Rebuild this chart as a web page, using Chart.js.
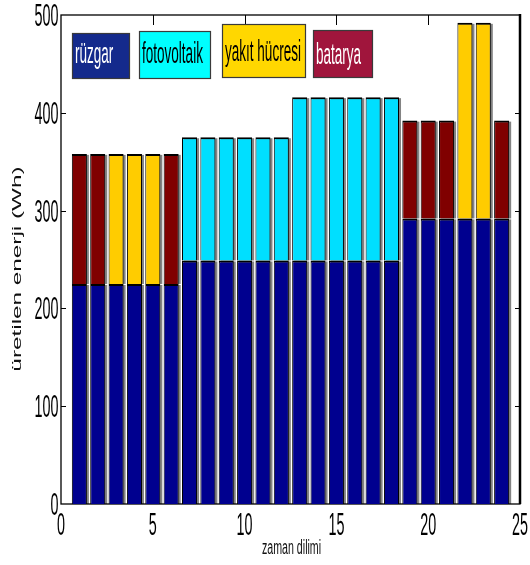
<!DOCTYPE html>
<html>
<head>
<meta charset="utf-8">
<script src="https://cdn.jsdelivr.net/npm/chart.js@4"></script>
<style>
html,body{margin:0;padding:0;background:#ffffff;}
#c{display:block;}
</style>
</head>
<body>
<canvas id="c" width="530" height="565"></canvas>
<script>
// ---- data ----
const timeSlots    = [1,2,3,4,5,6,7,8,9,10,11,12,13,14,15,16,17,18,19,20,21,22,23,24];
const ruzgar       = [225,225,225,225,225,225,249,249,249,249,249,249,249,249,249,249,249,249,292,292,292,292,292,292];
const fotovoltaik  = [null,null,null,null,null,null,126,126,126,126,126,126,167,167,167,167,167,167,null,null,null,null,null,null];
const yakitHucresi = [null,null,133,133,133,null,null,null,null,null,null,null,null,null,null,null,null,null,null,null,null,200,200,null];
const batarya      = [133,133,null,null,null,133,null,null,null,null,null,null,null,null,null,null,null,null,100,100,100,null,null,100];
const seriesLabels = ['rüzgar','fotovoltaik','yakıt hücresi','batarya'];
const xTickValues  = [0,5,10,15,20,25];
const yTickValues  = [0,100,200,300,400,500];
const xTitle = 'zaman dilimi';
const yTitle = 'üretilen enerji (Wh)';

// ---- styles / layout ----
const barColors        = ['#00008f','#00dfff','#ffcc00','#800000'];
const legendColors     = ['#142a8c','#00ffff','#ffd700','#a0153c'];
const legendTextColors = ['#ffffff','#000000','#000000','#ffffff'];
const legendBoxes = [
  {x:72,  y:33, w:58, h:46, base:63},
  {x:139, y:31, w:72, h:48, base:63},
  {x:222, y:24, w:84, h:54, base:61},
  {x:313, y:30, w:60, h:48, base:64}
];
const FONT = "'Liberation Sans', Arial, sans-serif";

function toPoints(arr){ return timeSlots.map((t,i)=>({x:t, y:arr[i]})); }
const seriesValues = [ruzgar, fotovoltaik, yakitHucresi, batarya];

function stretchText(ctx, text, x, y, size, sx, sy, align, color){
  ctx.save();
  ctx.translate(x, y);
  ctx.scale(sx, sy);
  ctx.font = size + 'px ' + FONT;
  ctx.textAlign = align;
  ctx.textBaseline = 'alphabetic';
  ctx.fillStyle = color || '#000';
  ctx.fillText(text, 0, 0);
  ctx.restore();
}

const framePlugin = {
  id: 'matlabFrame',
  beforeDatasetsDraw(chart){
    const ctx = chart.ctx;
    const a = chart.chartArea;
    const xs = chart.scales.x, ys = chart.scales.y;
    ctx.save();
    // bar shadows
    ctx.fillStyle = 'rgba(90,90,90,0.75)';
    chart.data.datasets.forEach((ds, di) => {
      const meta = chart.getDatasetMeta(di);
      meta.data.forEach((el, i) => {
        if (ds.data[i].y === null) return;
        const p = el.getProps(['x','y','base','width'], true);
        ctx.fillRect(p.x - p.width/2 + 2, p.y + 1, p.width, p.base - p.y - 1);
      });
    });
    // frame
    ctx.strokeStyle = '#000';
    ctx.lineWidth = 1.3;
    ctx.strokeRect(a.left, a.top, a.right - a.left, a.bottom - a.top);
    ctx.lineWidth = 2.5;
    ctx.beginPath(); ctx.moveTo(a.right, a.top - 1); ctx.lineTo(a.right, a.bottom); ctx.stroke();
    // inward ticks
    ctx.lineWidth = 1;
    xs.ticks.forEach(t => {
      if (t.value <= xs.min || t.value >= xs.max) return;
      const px = Math.round(xs.getPixelForValue(t.value)) + 0.5;
      ctx.beginPath();
      ctx.moveTo(px, a.top); ctx.lineTo(px, a.top + 10);
      ctx.moveTo(px, a.bottom); ctx.lineTo(px, a.bottom - 10);
      ctx.stroke();
    });
    ys.ticks.forEach(t => {
      if (t.value <= ys.min || t.value >= ys.max) return;
      const py = Math.round(ys.getPixelForValue(t.value)) + 0.5;
      ctx.beginPath();
      ctx.moveTo(a.left, py); ctx.lineTo(a.left + 5, py);
      ctx.moveTo(a.right, py); ctx.lineTo(a.right - 5, py);
      ctx.stroke();
    });
    ctx.restore();
  },
  afterDraw(chart){
    const ctx = chart.ctx;
    const a = chart.chartArea;
    const xs = chart.scales.x, ys = chart.scales.y;
    // tick labels
    xs.ticks.forEach(t => {
      stretchText(ctx, String(t.value), xs.getPixelForValue(t.value), a.bottom + 31, 17.5, 0.82, 1.75, 'center');
    });
    ys.ticks.forEach(t => {
      stretchText(ctx, String(t.value), a.left - 2.5, ys.getPixelForValue(t.value) + 11, 17.5, 0.82, 1.75, 'right');
    });
    // axis titles
    stretchText(ctx, xTitle, (a.left + a.right)/2 + 1, 554, 13, 0.82, 1.6, 'center', '#111');
    ctx.save();
    ctx.translate(21, 269);
    ctx.rotate(-Math.PI/2);
    ctx.scale(1.8, 1);
    ctx.font = '13.5px ' + FONT;
    ctx.textAlign = 'center';
    ctx.textBaseline = 'alphabetic';
    ctx.fillStyle = '#111';
    ctx.fillText(yTitle, 0, 0);
    ctx.restore();
    // legend boxes
    chart.data.datasets.forEach((ds, i) => {
      const b = legendBoxes[i];
      ctx.save();
      ctx.fillStyle = legendColors[i];
      ctx.fillRect(b.x, b.y, b.w, b.h);
      ctx.strokeStyle = '#3a3a3a';
      ctx.lineWidth = 1.2;
      ctx.strokeRect(b.x + 0.5, b.y + 0.5, b.w - 1, b.h - 1);
      ctx.restore();
      stretchText(ctx, ds.label, b.x + 3, b.base, 16.5, 0.82, 1.8, 'left', legendTextColors[i]);
    });
  }
};

new Chart(document.getElementById('c'), {
  type: 'bar',
  data: {
    datasets: seriesValues.map((vals, i) => ({
      label: seriesLabels[i],
      data: toPoints(vals),
      backgroundColor: barColors[i],
      borderColor: '#000000',
      borderWidth: {top: 2, left: 1, right: 1, bottom: 0},
      borderSkipped: 'start',
      barPercentage: 0.82,
      categoryPercentage: 1.0
    }))
  },
  options: {
    responsive: false,
    animation: false,
    devicePixelRatio: 1,
    layout: { padding: { left: 0, right: 10, top: 15, bottom: 0 } },
    plugins: { legend: { display: false }, tooltip: { enabled: false }, title: { display: false } },
    scales: {
      x: {
        type: 'linear', min: 0, max: 25, stacked: true, offset: false,
        afterBuildTicks(scale){ scale.ticks = xTickValues.map(v => ({value: v})); },
        ticks: { display: false, stepSize: 5 },
        grid: { display: false, drawTicks: false, offset: false },
        border: { display: false },
        afterFit(scale){ scale.height = 61; }
      },
      y: {
        type: 'linear', min: 0, max: 500, stacked: true,
        afterBuildTicks(scale){ scale.ticks = yTickValues.map(v => ({value: v})); },
        ticks: { display: false, stepSize: 100 },
        grid: { display: false, drawTicks: false },
        border: { display: false },
        afterFit(scale){ scale.width = 61; }
      }
    }
  },
  plugins: [framePlugin]
});
</script>
</body>
</html>
